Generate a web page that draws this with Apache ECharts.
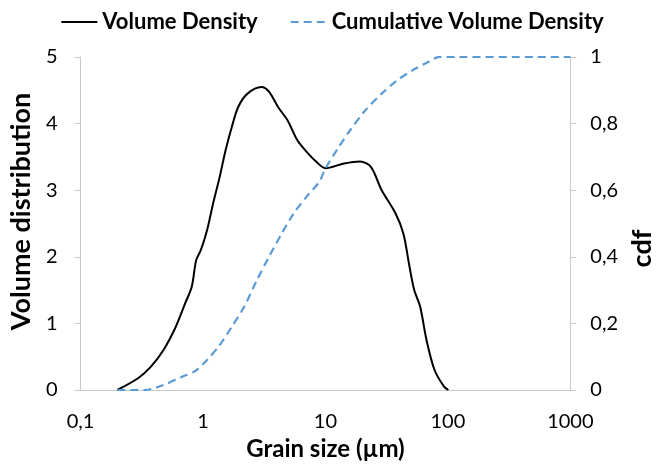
<!DOCTYPE html>
<html>
<head>
<meta charset="utf-8">
<script src="https://cdn.jsdelivr.net/npm/echarts@6/dist/echarts.min.js"></script>
<style>html,body{margin:0;padding:0;background:#fff}#c{width:664px;height:472px}</style>
</head>
<body>
<div id="c"></div>
<script>
const densitySize = [0.20,0.297,0.376,0.476,0.60,0.715,0.81,0.88,0.96,1.08,1.21,1.37,1.53,1.72,1.94,2.31,3.0,3.46,4.1,4.9,5.9,7.0,8.4,10.0,14.2,19.2,23.5,28.8,37.4,43.3,48.6,53.1,59.4,66.9,77.8,93,101];
const densityValue = [0,0.18,0.35,0.60,0.95,1.3,1.55,1.95,2.1,2.4,2.8,3.2,3.6,3.95,4.25,4.45,4.55,4.48,4.25,4.05,3.75,3.58,3.43,3.33,3.40,3.43,3.35,3.0,2.65,2.35,1.85,1.5,1.25,0.75,0.30,0.05,0];
const cdfSize = [0.20,0.334,0.476,0.675,0.85,1.08,1.37,1.72,2.17,2.76,3.46,4.4,5.5,7.0,8.9,10,12.6,15.9,21.2,28.8,38.5,51.5,69,85,1000];
const cdfValue = [0,0,0.015,0.04,0.055,0.09,0.135,0.19,0.25,0.33,0.40,0.47,0.53,0.58,0.625,0.665,0.725,0.78,0.84,0.89,0.93,0.96,0.985,1,1];
const leftTicks = [0,1,2,3,4,5];
const rightTicks = [0,0.2,0.4,0.6,0.8,1];

const FONT = 'Lato';
const chart = echarts.init(document.getElementById('c'), null, {renderer:'canvas'});
const comma = v => String(+v.toFixed(2)).replace('.', ',');
chart.setOption({
  animation: false,
  backgroundColor: '#fff',
  legend: {
    top: 6, left: 'center', itemWidth: 36, itemHeight: 14, itemGap: 32,
    itemStyle: {opacity: 0},
    textStyle: {fontFamily: FONT, fontWeight: 'bold', fontSize: 22, color: '#000'},
    data: ['Volume Density', 'Cumulative Volume Density']
  },
  grid: {left: 78, right: 62, top: 57, bottom: 82},
  xAxis: {
    type: 'log', logBase: 10, min: 0.1, max: 1000,
    name: 'Grain size (µm)', nameLocation: 'middle', nameGap: 44,
    nameTextStyle: {fontFamily: FONT, fontWeight: 'bold', fontSize: 24, color: '#000'},
    axisLine: {lineStyle: {color: '#c8c8c8', width: 1}},
    axisTick: {show: false},
    splitLine: {show: false},
    minorTick: {show: false},
    axisLabel: {fontFamily: FONT, fontSize: 20, color: '#000', margin: 22, formatter: v => comma(v)}
  },
  yAxis: [{
    type: 'value', min: leftTicks[0], max: leftTicks[leftTicks.length-1], interval: 1,
    name: 'Volume distribution', nameLocation: 'middle', nameGap: 38, nameRotate: 90,
    nameTextStyle: {fontFamily: FONT, fontWeight: 'bold', fontSize: 27, color: '#000', padding: [0,0,0,24]},
    axisLine: {show: true, lineStyle: {color: '#c8c8c8'}},
    axisTick: {show: true, length: 6, lineStyle: {color: '#c8c8c8'}},
    splitLine: {show: false},
    axisLabel: {fontFamily: FONT, fontSize: 20, color: '#000', margin: 23}
  }, {
    type: 'value', min: rightTicks[0], max: rightTicks[rightTicks.length-1], interval: 0.2,
    position: 'right',
    name: 'cdf', nameLocation: 'middle', nameGap: 39, nameRotate: 90,
    nameTextStyle: {fontFamily: FONT, fontWeight: 'bold', fontSize: 27, color: '#000', padding: [0,50,0,0]},
    axisLine: {show: true, lineStyle: {color: '#c8c8c8'}},
    axisTick: {show: true, length: 6, lineStyle: {color: '#c8c8c8'}},
    splitLine: {show: false},
    axisLabel: {fontFamily: FONT, fontSize: 20, color: '#000', margin: 20, formatter: v => comma(v)}
  }],
  series: [{
    name: 'Volume Density', type: 'line', yAxisIndex: 0, symbol: 'none', smooth: 0.3,
    lineStyle: {color: '#000', width: 2},
    itemStyle: {color: '#000'},
    data: densitySize.map((s, i) => [s, densityValue[i]])
  }, {
    name: 'Cumulative Volume Density', type: 'line', yAxisIndex: 1, symbol: 'none', smooth: 0.3,
    lineStyle: {color: '#5b9bd5', width: 2.2, type: [8, 5]},
    itemStyle: {color: '#5b9bd5'},
    data: cdfSize.map((s, i) => [s, cdfValue[i]])
  }]
});
</script>
</body>
</html>
